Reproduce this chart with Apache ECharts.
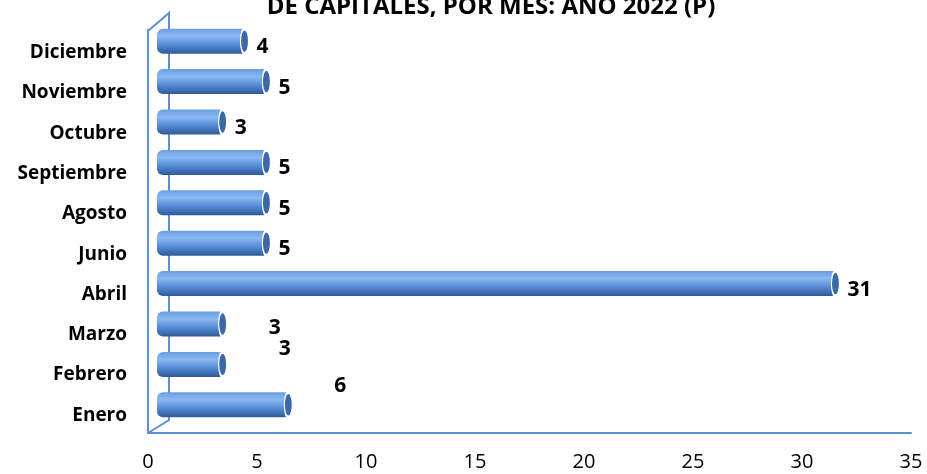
<!DOCTYPE html>
<html>
<head>
<meta charset="utf-8">
<script src="https://cdn.jsdelivr.net/npm/echarts@6/dist/echarts.min.js"></script>
<style>
  html, body { margin: 0; padding: 0; background: #fff; }
  #chart { width: 927px; height: 474px; }
</style>
</head>
<body>
<div id="chart"></div>
<script>
// data
var months = ['Enero', 'Febrero', 'Marzo', 'Abril', 'Junio', 'Agosto', 'Septiembre', 'Octubre', 'Noviembre', 'Diciembre'];
var counts = [6, 3, 3, 31, 5, 5, 5, 3, 5, 4];
var xTicks = [0, 5, 10, 15, 20, 25, 30, 35];

var FONT = '"Open Sans", "Liberation Sans", sans-serif';
var lineColor = '#5b8fd8';

// label nudges (the first three labels sit away from their bars in the original)
var labelShift = [[34, -19], [44, -15], [34, 4], [0, 6], [0, 6], [0, 6], [0, 6], [0, 6], [0, 6], [0, 6]];

var chart = echarts.init(document.getElementById('chart'));

var barData = counts.map(function (v, i) {
    return { value: v, label: { offset: labelShift[i] } };
});

var option = {
    animation: false,
    title: {
        text: 'DE CAPITALES, POR MES: AÑO 2022 (P)',
        left: 486,
        textAlign: 'center',
        top: -10,
        textStyle: { fontFamily: FONT, fontWeight: 'bold', fontSize: 24, color: '#000' }
    },
    grid: [
        { left: 148, right: 16, top: 30, bottom: 41 },
        { left: 157, right: 4, top: 21, bottom: 49 }
    ],
    xAxis: [
        {
            gridIndex: 0, type: 'value', min: xTicks[0], max: xTicks[xTicks.length - 1], interval: 5,
            axisLine: { show: true, lineStyle: { color: lineColor, width: 2 } },
            axisTick: { show: false },
            splitLine: { show: false },
            axisLabel: { color: '#000', fontFamily: FONT, fontSize: 20, margin: 19 }
        },
        {
            gridIndex: 1, type: 'value', min: xTicks[0], max: xTicks[xTicks.length - 1],
            show: false
        }
    ],
    yAxis: [
        {
            gridIndex: 0, type: 'category', data: months,
            axisLine: { show: true, lineStyle: { color: lineColor, width: 2 } },
            axisTick: { show: false },
            axisLabel: {
                margin: 21,
                formatter: '{m|{value}}',
                rich: {
                    m: { color: '#000', fontFamily: FONT, fontWeight: 'bold', fontSize: 19, padding: [5, 0, 0, 0] }
                }
            }
        },
        {
            gridIndex: 1, type: 'category', data: months, show: false
        }
    ],
    graphic: [
        // 3d wall outline
        { type: 'polyline', z: 0, shape: { points: [[148, 31], [169, 13], [169, 420], [148, 433]] },
          style: { stroke: lineColor, lineWidth: 2, fill: null } }
    ],
    series: [
        {
            type: 'bar',
            xAxisIndex: 1, yAxisIndex: 1,
            z: 5,
            barWidth: 25,
            data: barData,
            itemStyle: {
                borderRadius: [6, 0, 0, 6],
                color: new echarts.graphic.LinearGradient(0, 0, 0, 1, [
                    { offset: 0, color: '#6a9de0' },
                    { offset: 0.3, color: '#8ab9f2' },
                    { offset: 0.6, color: '#5a90da' },
                    { offset: 1, color: '#2d5a9a' }
                ])
            },
            label: {
                show: true,
                position: 'right',
                distance: 12,
                color: '#000',
                fontFamily: FONT,
                fontWeight: 'bold',
                fontSize: 21
            }
        },
        {
            type: 'scatter',
            xAxisIndex: 1, yAxisIndex: 1,
            z: 6,
            symbol: 'circle',
            symbolSize: [8, 25],
            data: counts,
            itemStyle: { color: '#3b69a8', borderColor: '#fff', borderWidth: 2, opacity: 1 },
            silent: true
        }
    ]
};

chart.setOption(option);
</script>
</body>
</html>
